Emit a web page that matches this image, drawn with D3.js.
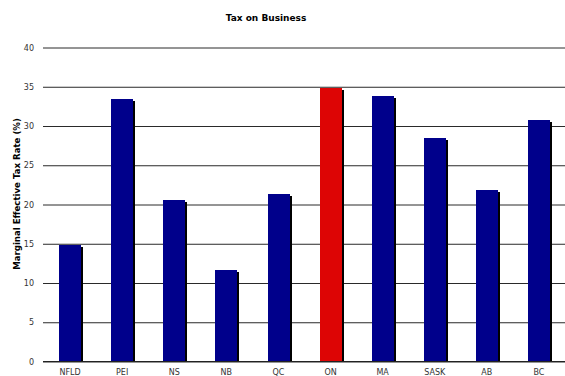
<!DOCTYPE html>
<html>
<head>
<meta charset="utf-8">
<script src="https://cdn.jsdelivr.net/npm/d3@7"></script>
<style>
  html, body { margin: 0; padding: 0; background: #fff; }
  svg { display: block; }
</style>
</head>
<body>
<svg id="chart" width="565" height="376"></svg>
<script>
// Marginal effective tax rate on business by province
const provinces = ["NFLD", "PEI", "NS", "NB", "QC", "ON", "MA", "SASK", "AB", "BC"];
const taxRates = [14.9, 33.5, 20.6, 11.7, 21.4, 34.8, 33.8, 28.5, 21.9, 30.8];
const highlighted = ["ON"];
const yTicks = [0, 5, 10, 15, 20, 25, 30, 35, 40];

const svg = d3.select("#chart");
const font = "DejaVu Sans, Verdana, sans-serif";

const x = d3.scaleBand()
  .domain(provinces)
  .range([44, 565])
  .paddingInner(0.58)
  .paddingOuter(0.29);

const y = d3.scaleLinear()
  .domain([0, 40])
  .range([361.5, 47.5]);

// Title
svg.append("text")
  .attr("x", 266)
  .attr("y", 21)
  .attr("text-anchor", "middle")
  .attr("font-family", font)
  .attr("font-weight", "bold")
  .attr("font-size", 9)
  .attr("fill", "#000")
  .text("Tax on Business");

// Horizontal gridlines with value labels
const yAxis = d3.axisLeft(y)
  .tickValues(yTicks)
  .tickSize(-(565 - 43))
  .tickPadding(9)
  .tickFormat(d3.format("d"));

const gy = svg.append("g")
  .attr("transform", "translate(43,0)")
  .call(yAxis);
gy.select(".domain").remove();
gy.selectAll(".tick line").attr("stroke", "#2a2a2a").attr("stroke-width", 1);
gy.selectAll(".tick text")
  .attr("font-family", font)
  .attr("font-size", 8)
  .attr("fill", "#333");

// Y axis title
svg.append("text")
  .attr("transform", "translate(20,194) rotate(-90)")
  .attr("text-anchor", "middle")
  .attr("font-family", font)
  .attr("font-weight", "bold")
  .attr("font-size", 8.6)
  .attr("fill", "#000")
  .text("Marginal Effective Tax Rate (%)");

const data = provinces.map((p, i) => ({ p, v: taxRates[i] }));
const bx = d => Math.round(x(d.p));
const bw = Math.round(x.bandwidth());
const by = d => Math.round(y(d.v));
const base = Math.round(y(0));

// Drop shadows behind bars
svg.append("g").selectAll("rect")
  .data(data)
  .join("rect")
  .attr("x", d => bx(d) + 2)
  .attr("y", d => by(d) + 2)
  .attr("width", bw)
  .attr("height", d => base - by(d) - 2)
  .attr("fill", "#000");

// Bars
svg.append("g").selectAll("rect")
  .data(data)
  .join("rect")
  .attr("x", bx)
  .attr("y", by)
  .attr("width", bw)
  .attr("height", d => base - by(d))
  .attr("fill", d => highlighted.includes(d.p) ? "#DD0505" : "#00008B");

// Baseline on top of bars
svg.append("line")
  .attr("x1", 43).attr("x2", 565)
  .attr("y1", y(0)).attr("y2", y(0))
  .attr("stroke", "#222");

// Category labels
const xAxis = d3.axisBottom(x).tickSize(0).tickPadding(8);
const gx = svg.append("g")
  .attr("transform", `translate(0,${y(0)})`)
  .call(xAxis);
gx.select(".domain").remove();
gx.selectAll(".tick text")
  .attr("font-family", font)
  .attr("font-size", 8)
  .attr("fill", "#333");
</script>
</body>
</html>
